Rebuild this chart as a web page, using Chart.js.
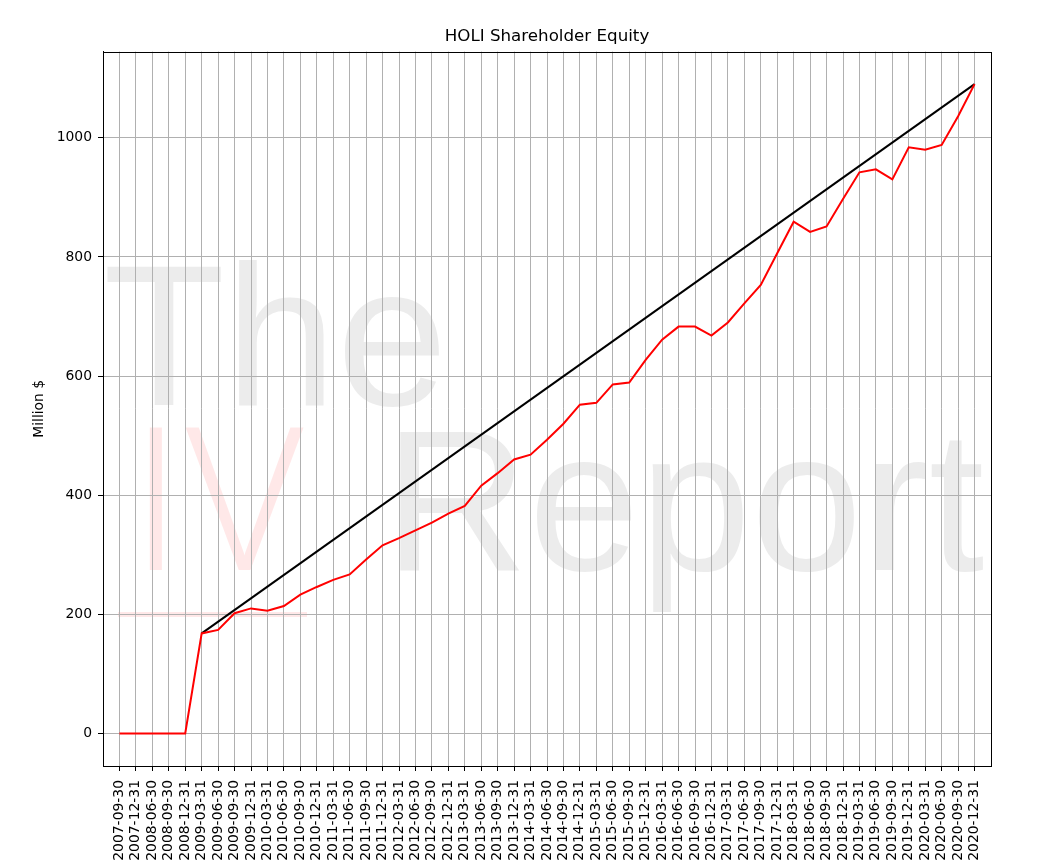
<!DOCTYPE html>
<html>
<head>
<meta charset="utf-8">
<script src="https://cdn.jsdelivr.net/npm/chart.js@4/dist/chart.umd.min.js"></script>
<style>
  html, body { margin: 0; padding: 0; background: #ffffff; }
  #wrap { width: 1038px; height: 867px; }
</style>
</head>
<body>
<div id="wrap"><canvas id="c" width="1038" height="867"></canvas></div>
<script>
const quarters = [
  "2007-09-30","2007-12-31","2008-06-30","2008-09-30","2008-12-31",
  "2009-03-31","2009-06-30","2009-09-30","2009-12-31",
  "2010-03-31","2010-06-30","2010-09-30","2010-12-31",
  "2011-03-31","2011-06-30","2011-09-30","2011-12-31",
  "2012-03-31","2012-06-30","2012-09-30","2012-12-31",
  "2013-03-31","2013-06-30","2013-09-30","2013-12-31",
  "2014-03-31","2014-06-30","2014-09-30","2014-12-31",
  "2015-03-31","2015-06-30","2015-09-30","2015-12-31",
  "2016-03-31","2016-06-30","2016-09-30","2016-12-31",
  "2017-03-31","2017-06-30","2017-09-30","2017-12-31",
  "2018-03-31","2018-06-30","2018-09-30","2018-12-31",
  "2019-03-31","2019-06-30","2019-09-30","2019-12-31",
  "2020-03-31","2020-06-30","2020-09-30","2020-12-31"
];
const equity = [
  0, 0, 0, 0, 0,
  168, 174, 202, 210,
  206, 214, 233, 246,
  258, 267, 292, 316,
  328, 341, 354, 369,
  382, 416, 437, 460,
  468, 493, 520, 552,
  555, 586, 589, 627,
  661, 683, 683, 668,
  690, 722, 753, 806,
  859, 842, 851, 897,
  942, 947, 930, 984,
  980, 988, 1036, 1090
];
const trendIndex = [5, 52];
const trendValues = [168, 1090];
const yTicks = [0, 200, 400, 600, 800, 1000];

const FONT = "'DejaVu Sans', sans-serif";

const watermark = {
  id: 'watermark',
  beforeDraw(chart) {
    const ctx = chart.ctx;
    ctx.save();
    ctx.fillStyle = '#ffffff';
    ctx.fillRect(0, 0, chart.width, chart.height);
    ctx.font = "200px 'Liberation Sans', Arial, sans-serif";
    ctx.textBaseline = 'alphabetic';
    ctx.textAlign = 'left';
    ctx.fillStyle = 'rgba(128,128,128,0.15)';
    ctx.fillText('The', 103, 405);
    ctx.fillText('Report', 384, 570);
    ctx.fillStyle = 'rgba(255,0,0,0.09)';
    ctx.font = "300 201px Roboto, 'Liberation Sans', sans-serif";
    ctx.fillText('IV', 129, 570);
    ctx.fillRect(118, 612, 189, 5);
    ctx.restore();
  },
  afterDraw(chart) {
    const a = chart.chartArea;
    const ctx = chart.ctx;
    ctx.save();
    ctx.strokeStyle = '#000000';
    ctx.lineWidth = 1;
    ctx.strokeRect(Math.round(a.left) + 0.5, Math.round(a.top) + 0.5,
                   Math.round(a.right - a.left), Math.round(a.bottom - a.top));
    ctx.restore();
  }
};

new Chart(document.getElementById('c'), {
  type: 'line',
  data: {
    datasets: [
      {
        label: 'Equity',
        data: equity.map((v, i) => ({ x: i, y: v })),
        borderColor: '#ff0000',
        borderWidth: 2,
        pointRadius: 0,
        tension: 0,
        fill: false
      },
      {
        label: 'Trend',
        data: trendIndex.map((x, i) => ({ x: x, y: trendValues[i] })),
        borderColor: '#000000',
        borderWidth: 2,
        pointRadius: 0,
        tension: 0,
        fill: false
      }
    ]
  },
  options: {
    responsive: false,
    animation: false,
    events: [],
    layout: { padding: { left: 0, right: 47, top: 0, bottom: 0 } },
    plugins: {
      legend: { display: false },
      tooltip: { enabled: false },
      title: {
        display: true,
        fullSize: false,
        text: 'HOLI Shareholder Equity',
        color: '#000000',
        font: { family: FONT, size: 16.7, weight: 'normal' },
        padding: { top: 27, bottom: 4.6 }
      }
    },
    scales: {
      x: {
        type: 'linear',
        min: -1,
        max: 53,
        afterBuildTicks(axis) {
          axis.ticks = quarters.map((_, i) => ({ value: i }));
        },
        afterFit(axis) { axis.height = 101; },
        grid: {
          color: '#b0b0b0',
          lineWidth: 1,
          tickColor: '#000000',
          tickLength: 5,
          drawOnChartArea: true
        },
        border: { display: true, color: '#000000', width: 1 },
        ticks: {
          autoSkip: false,
          minRotation: 90,
          maxRotation: 90,
          padding: 9,
          color: '#000000',
          font: { family: FONT, size: 13.9 },
          callback: (v) => quarters[v] !== undefined ? quarters[v] : ''
        }
      },
      y: {
        type: 'linear',
        min: -54.5,
        max: 1144.5,
        afterBuildTicks(axis) {
          axis.ticks = yTicks.map(v => ({ value: v }));
        },
        afterFit(axis) { axis.width = 103; },
        grid: {
          color: '#b0b0b0',
          lineWidth: 1,
          tickColor: '#000000',
          tickLength: 5
        },
        border: { display: true, color: '#000000', width: 1 },
        title: {
          display: true,
          text: 'Million $',
          color: '#000000',
          font: { family: FONT, size: 13.9 },
          padding: { top: 31, bottom: 0 }
        },
        ticks: {
          padding: 6,
          color: '#000000',
          font: { family: FONT, size: 13.9 },
          callback: (v) => String(v)
        }
      }
    }
  },
  plugins: [watermark]
});
</script>
</body>
</html>
